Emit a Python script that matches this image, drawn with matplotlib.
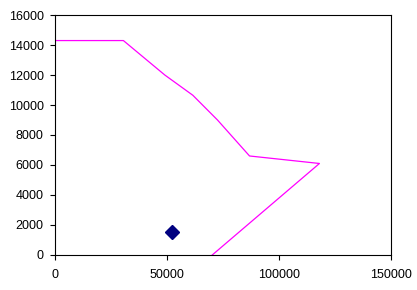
import matplotlib
matplotlib.use('Agg')
import matplotlib.pyplot as plt

plt.rcParams['font.family'] = ['Liberation Sans', 'DejaVu Sans']

# boundary line (magenta)
line_x = [0, 30500, 49000, 61500, 72500, 86800, 118000, 70200]
line_y = [14300, 14300, 12000, 10650, 9000, 6600, 6100, 0]

# single point (navy diamond)
point_x = [52000]
point_y = [1500]

fig = plt.figure(figsize=(4.17, 2.90), dpi=100)
ax = fig.add_axes([0.132, 0.121, 0.806, 0.827])

ax.plot(line_x, line_y, color='#ff00ff', linewidth=0.9)
ax.plot(point_x, point_y, linestyle='none', marker='D', markersize=7.5,
        color='#000080')

ax.set_xlim(0, 150000)
ax.set_ylim(0, 16000)
ax.set_xticks([0, 50000, 100000, 150000])
ax.set_yticks(range(0, 16001, 2000))
ax.tick_params(direction='out', length=3.6, width=0.8, labelsize=9)
ax.tick_params(axis='y', pad=4.5)
ax.tick_params(axis='x', pad=6.5)
for s in ax.spines.values():
    s.set_linewidth(0.8)

fig.savefig('out.png', dpi=100)
